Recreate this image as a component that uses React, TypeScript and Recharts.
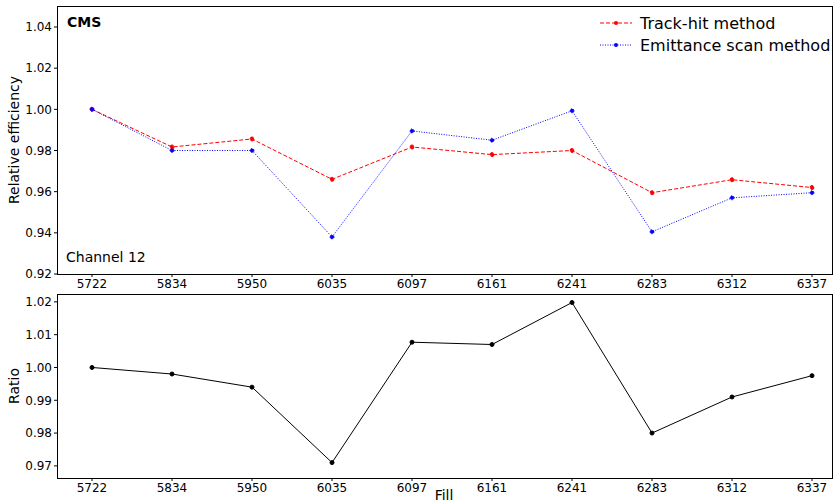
import React from 'react';
import { LineChart, Line, XAxis, YAxis } from 'recharts';

const fills = ['5722', '5834', '5950', '6035', '6097', '6161', '6241', '6283', '6312', '6337'];
const trackHit = [1.0, 0.9817, 0.9856, 0.966, 0.9817, 0.978, 0.98, 0.9595, 0.9658, 0.962];
const emittance = [1.0, 0.98, 0.98, 0.938, 0.9895, 0.985, 0.9993, 0.9405, 0.957, 0.9595];
const ratio = [1.0, 0.998, 0.994, 0.971, 1.0077, 1.007, 1.0198, 0.98, 0.991, 0.9975];

const topTicks = [0.92, 0.94, 0.96, 0.98, 1.0, 1.02, 1.04];
const bottomTicks = [0.97, 0.98, 0.99, 1.0, 1.01, 1.02];

const topData = fills.map((f, i) => ({ i, fill: f, track: trackHit[i], emit: emittance[i] }));
const bottomData = fills.map((f, i) => ({ i, fill: f, ratio: ratio[i] }));

const font = 'DejaVu Sans, sans-serif';
const tickStyle = { fontSize: 12, fill: '#000', fontFamily: font };

const xAxisProps = {
  dataKey: 'i',
  type: 'number' as const,
  domain: [-0.4375, 9.25],
  ticks: [0, 1, 2, 3, 4, 5, 6, 7, 8, 9],
  tickFormatter: (v: number) => fills[v],
  tick: tickStyle,
  tickLine: { stroke: '#000' },
  tickSize: 3,
  axisLine: false,
  allowDataOverflow: true,
};

export default function App() {
  return (
    <div style={{ position: 'absolute', left: 0, top: 0, width: 840, height: 503, background: '#fff', fontFamily: font }}>
      <div style={{ position: 'absolute', left: 0, top: 0 }}>
        <LineChart width={840} height={294} data={topData} margin={{ top: 6, right: 8, left: 0, bottom: 0 }}>
          <XAxis {...xAxisProps} height={20} />
          <YAxis type="number" domain={[0.92, 1.0502]} ticks={topTicks} width={57}
            tickFormatter={(v: number) => v.toFixed(2)} tick={tickStyle} tickSize={3}
            tickLine={{ stroke: '#000' }} axisLine={false} allowDataOverflow
            label={{ value: 'Relative efficiency', angle: -90, position: 'insideLeft', offset: 14, style: { fontSize: 14, fill: '#000', textAnchor: 'middle' } }} />
          <Line dataKey="track" stroke="#ff0000" strokeWidth={1} strokeDasharray="4 2"
            dot={{ r: 2, fill: '#ff0000', stroke: '#ff0000' }} isAnimationActive={false} />
          <Line dataKey="emit" stroke="#0000ff" strokeWidth={1} strokeDasharray="1 1.5"
            dot={{ r: 2, fill: '#0000ff', stroke: '#0000ff' }} isAnimationActive={false} />
        </LineChart>
      </div>
      <div style={{ position: 'absolute', left: 0, top: 294 }}>
        <LineChart width={840} height={209} data={bottomData} margin={{ top: 0, right: 8, left: 0, bottom: 0 }}>
          <XAxis {...xAxisProps} height={25} />
          <YAxis type="number" domain={[0.9663, 1.0224]} ticks={bottomTicks} width={57}
            tickFormatter={(v: number) => v.toFixed(2)} tick={tickStyle} tickSize={3}
            tickLine={{ stroke: '#000' }} axisLine={false} allowDataOverflow
            label={{ value: 'Ratio', angle: -90, position: 'insideLeft', offset: 14, style: { fontSize: 14, fill: '#000', textAnchor: 'middle' } }} />
          <Line dataKey="ratio" stroke="#000" strokeWidth={1}
            dot={{ r: 2, fill: '#000', stroke: '#000' }} isAnimationActive={false} />
        </LineChart>
      </div>
      <svg style={{ position: 'absolute', left: 0, top: 0, pointerEvents: 'none' }} width={840} height={503}>
        <rect x={57.5} y={6.5} width={775} height={268} fill="none" stroke="#000" />
        <rect x={57.5} y={294.5} width={775} height={184} fill="none" stroke="#000" />
        <text x={67} y={27} fontSize={14} fontWeight="bold" fontFamily={font}>CMS</text>
        <text x={66} y={262} fontSize={14} fontFamily={font}>Channel 12</text>
        <line x1={600} y1={23} x2={632} y2={23} stroke="#ff0000" strokeDasharray="4 2" />
        <circle cx={616} cy={23} r={2} fill="#ff0000" />
        <text x={640} y={29} fontSize={16} fontFamily={font}>Track-hit method</text>
        <line x1={600} y1={45} x2={632} y2={45} stroke="#0000ff" strokeDasharray="1 1.5" />
        <circle cx={616} cy={45} r={2} fill="#0000ff" />
        <text x={640} y={51} fontSize={16} fontFamily={font}>Emittance scan method</text>
        <text x={444} y={500} fontSize={14} textAnchor="middle" fontFamily={font}>Fill</text>
      </svg>
    </div>
  );
}
